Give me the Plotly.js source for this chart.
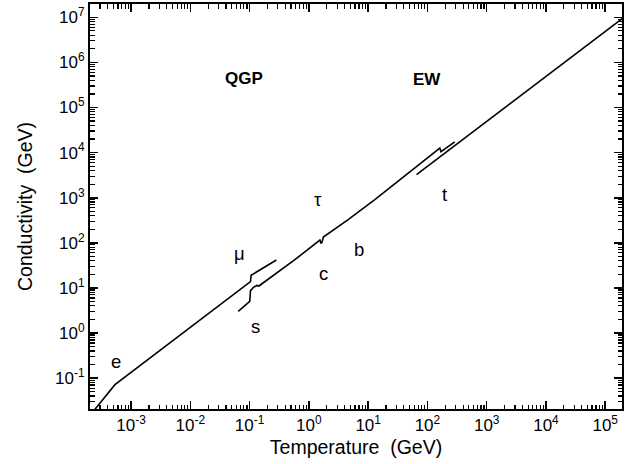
<!DOCTYPE html>
<html>
<head>
<meta charset="utf-8">
<script src="https://cdn.plot.ly/plotly-3.0.1.min.js"></script>
<style>
html,body{margin:0;padding:0;background:#fff;}
#chart{width:639px;height:464px;}
</style>
</head>
<body>
<div id="chart"></div>
<script>
// ---- data ----
// Low-temperature branch (through e and mu thresholds)
const lowT_T     = [2.24e-4, 5.35e-4, 0.1035, 0.1059, 0.283];
const lowT_sigma = [0.0175, 0.0715, 13.8, 19.05, 41.6];

// QGP branch (s, c/tau, b, t thresholds)
const qgp_T     = [0.0643, 0.1005, 0.1035, 0.1159, 0.1327, 0.1435, 0.581, 1.533, 1.594, 1.656, 1.756, 4.60, 12.97, 161.8, 169.4, 289.7];
const qgp_sigma = [3.01, 5.01, 8.67, 10.26, 11.35, 11.02, 42.2, 115.3, 99.1, 100.5, 134.6, 325, 904, 12650, 10470, 17260];

// Electroweak branch
const ew_T     = [65.5, 1.0e4, 2.24e5];
const ew_sigma = [3236, 4.8e5, 1.084e7];

// tick decades
const xDecades = [-3, -2, -1, 0, 1, 2, 3, 4, 5];
const yDecades = [-1, 0, 1, 2, 3, 4, 5, 6, 7];

// text labels
const phaseLabels = ['QGP', 'EW'];
const phaseT      = [0.0802, 98.4];
const phaseSigma  = [4.40e5, 4.20e5];

const particleLabels = ['e', '\u03bc', 's', '\u03c4', 'c', 'b', 't'];
const particleT      = [5.46e-4, 0.0665, 0.1268, 1.419, 1.758, 7.11, 190.5];
const particleSigma  = [0.230, 57.5, 1.41, 935, 21.1, 71.4, 1167];

const xTitle = 'Temperature\u00a0 (GeV)';
const yTitle = 'Conductivity\u00a0 (GeV)';

// ---- build ----
const FONT = 'Liberation Sans, Arial, Helvetica, sans-serif';
const X_RANGE = [-3.693, 5.283];
const Y_RANGE = [-1.685, 7.295];

function decadeTicks(decs) {
  return {vals: decs.map(d => Math.pow(10, d)), text: decs.map(d => '10<sup>' + d + '</sup>')};
}
function minorTicks(decs) {
  const out = [];
  for (let d = decs[0] - 1; d <= decs[decs.length - 1] + 1; d++)
    for (let m = 2; m <= 9; m++) out.push(m * Math.pow(10, d));
  return out;
}

const xt = decadeTicks(xDecades);
const yt = decadeTicks(yDecades);

const lineStyle = {color: '#000', width: 1.6};
const traces = [
  {x: lowT_T, y: lowT_sigma, mode: 'lines', line: lineStyle, hoverinfo: 'skip'},
  {x: qgp_T, y: qgp_sigma, mode: 'lines', line: lineStyle, hoverinfo: 'skip'},
  {x: ew_T, y: ew_sigma, mode: 'lines', line: lineStyle, hoverinfo: 'skip'}
];

const annotations = [];
phaseLabels.forEach((t, i) => annotations.push({
  text: '<b>' + t + '</b>', x: Math.log10(phaseT[i]), y: Math.log10(phaseSigma[i]),
  xref: 'x', yref: 'y', showarrow: false, xanchor: 'center', yanchor: 'middle',
  font: {family: FONT, size: 17, color: '#000'}
}));
particleLabels.forEach((t, i) => annotations.push({
  text: t, x: Math.log10(particleT[i]), y: Math.log10(particleSigma[i]),
  xref: 'x', yref: 'y', showarrow: false, xanchor: 'center', yanchor: 'middle',
  font: {family: FONT, size: 18.5, color: '#000'}
}));

function majorAxis(ticks, range, title) {
  return {
    type: 'log', range: range, tickmode: 'array', tickvals: ticks.vals, ticktext: ticks.text,
    ticks: 'inside', ticklen: 8, tickwidth: 1.6, tickcolor: '#000',
    showline: true, linewidth: 2, linecolor: '#000', mirror: 'allticks',
    showgrid: false, zeroline: false, fixedrange: true,
    tickfont: {family: FONT, size: 17, color: '#000'},
    title: {text: title, font: {family: FONT, size: 19.5, color: '#000'}}
  };
}
function minorAxis(vals, range, overlay, anchor, side) {
  return {
    type: 'log', range: range, overlaying: overlay, anchor: anchor, side: side,
    tickmode: 'array', tickvals: vals, showticklabels: false,
    ticks: 'inside', ticklen: 4.5, tickwidth: 1.2, tickcolor: '#000',
    showline: false, mirror: 'ticks', showgrid: false, zeroline: false, fixedrange: true
  };
}

const layout = {
  width: 639, height: 464,
  margin: {l: 90, r: 16.7, t: 4.3, b: 54.7},
  paper_bgcolor: '#fff', plot_bgcolor: 'rgba(0,0,0,0)', showlegend: false,
  xaxis: majorAxis(xt, X_RANGE, xTitle),
  yaxis: majorAxis(yt, Y_RANGE, yTitle),
  xaxis2: minorAxis(minorTicks(xDecades), X_RANGE, 'x', 'y', 'bottom'),
  yaxis2: minorAxis(minorTicks(yDecades), Y_RANGE, 'y', 'x', 'left'),
  annotations: annotations
};
layout.xaxis.title.standoff = 6;
layout.yaxis.title.standoff = 17;

// invisible trace that activates the minor-tick overlay axes
traces.push({x: [ew_T[0]], y: [ew_sigma[0]], xaxis: 'x2', yaxis: 'y2', mode: 'markers',
  marker: {opacity: 0}, hoverinfo: 'skip'});

Plotly.newPlot('chart', traces, layout, {staticPlot: true, displayModeBar: false});
</script>
</body>
</html>
